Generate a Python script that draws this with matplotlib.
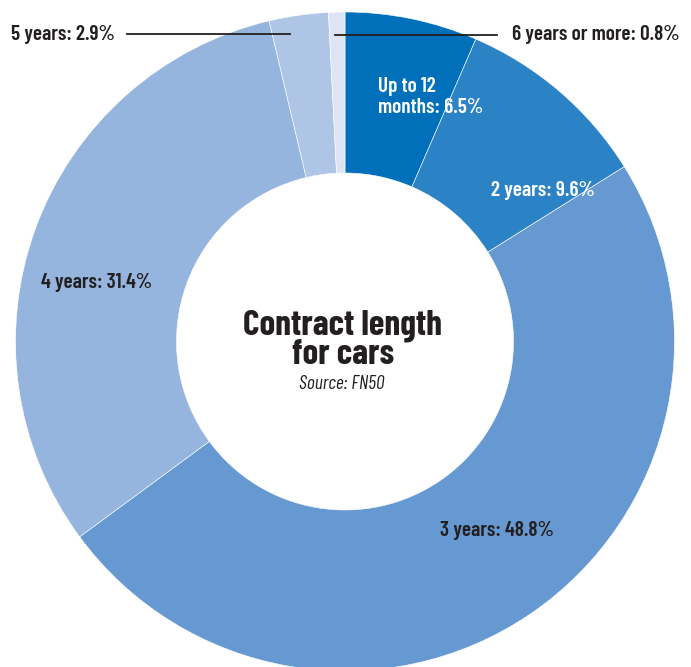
import matplotlib
matplotlib.use("Agg")
from matplotlib import pyplot

labels = ["Up to 12\nmonths", "2 years", "3 years", "4 years", "5 years", "6 years or more"]
values = [6.5, 9.6, 48.8, 31.4, 2.9, 0.8]
colors = ["#0070ba", "#2b83c6", "#6699d2", "#95b4de", "#afc5e6", "#dde5f4"]

W, H = 691, 667

def px(x, y):
    # pixel position (origin top-left) -> data coords
    return x, H - y

fig = pyplot.figure(figsize=(W / 100, H / 100), dpi=100)
ax = fig.add_axes([0, 0, 1, 1])

cx, cy = px(345, 341.5)
ax.pie(values, colors=colors, startangle=90, counterclock=False,
       center=(cx, cy), radius=329.5,
       wedgeprops=dict(width=161, edgecolor="white", linewidth=0.4))
ax.set_xlim(0, W)
ax.set_ylim(0, H)
ax.set_aspect("equal")
ax.axis("off")

font = ["Barlow Condensed", "DejaVu Sans"]
dark = "#231f20"

# label placement: (x, y, ha, colour)
places = [
    (378, 97, "left", "white"),
    (543, 190, "center", "white"),
    (497, 530, "center", dark),
    (97, 283, "center", dark),
    (11, 34, "left", dark),
    (680, 34, "right", dark),
]
for lab, val, (x, y, ha, c) in zip(labels, values, places):
    ax.text(*px(x, y), f"{lab}: {val}%", ha=ha, va="center", color=c,
            fontsize=15.3, fontweight="semibold", family=font, linespacing=1.12)

# leader lines for the two thin slices
ax.plot(*zip(px(127, 34), px(290, 34)), color=dark, lw=1.3)
ax.plot(*zip(px(335, 35), px(497, 35)), color=dark, lw=1.3)

ax.text(*px(343, 340), "Contract length\nfor cars", ha="center", va="center",
        fontsize=25.5, fontweight="bold", family=font, color=dark, linespacing=0.86)
ax.text(*px(342, 384), "Source: FN50", ha="center", va="center",
        fontsize=14, style="italic", family=font, color=dark)

fig.savefig("out.png", dpi=100)
